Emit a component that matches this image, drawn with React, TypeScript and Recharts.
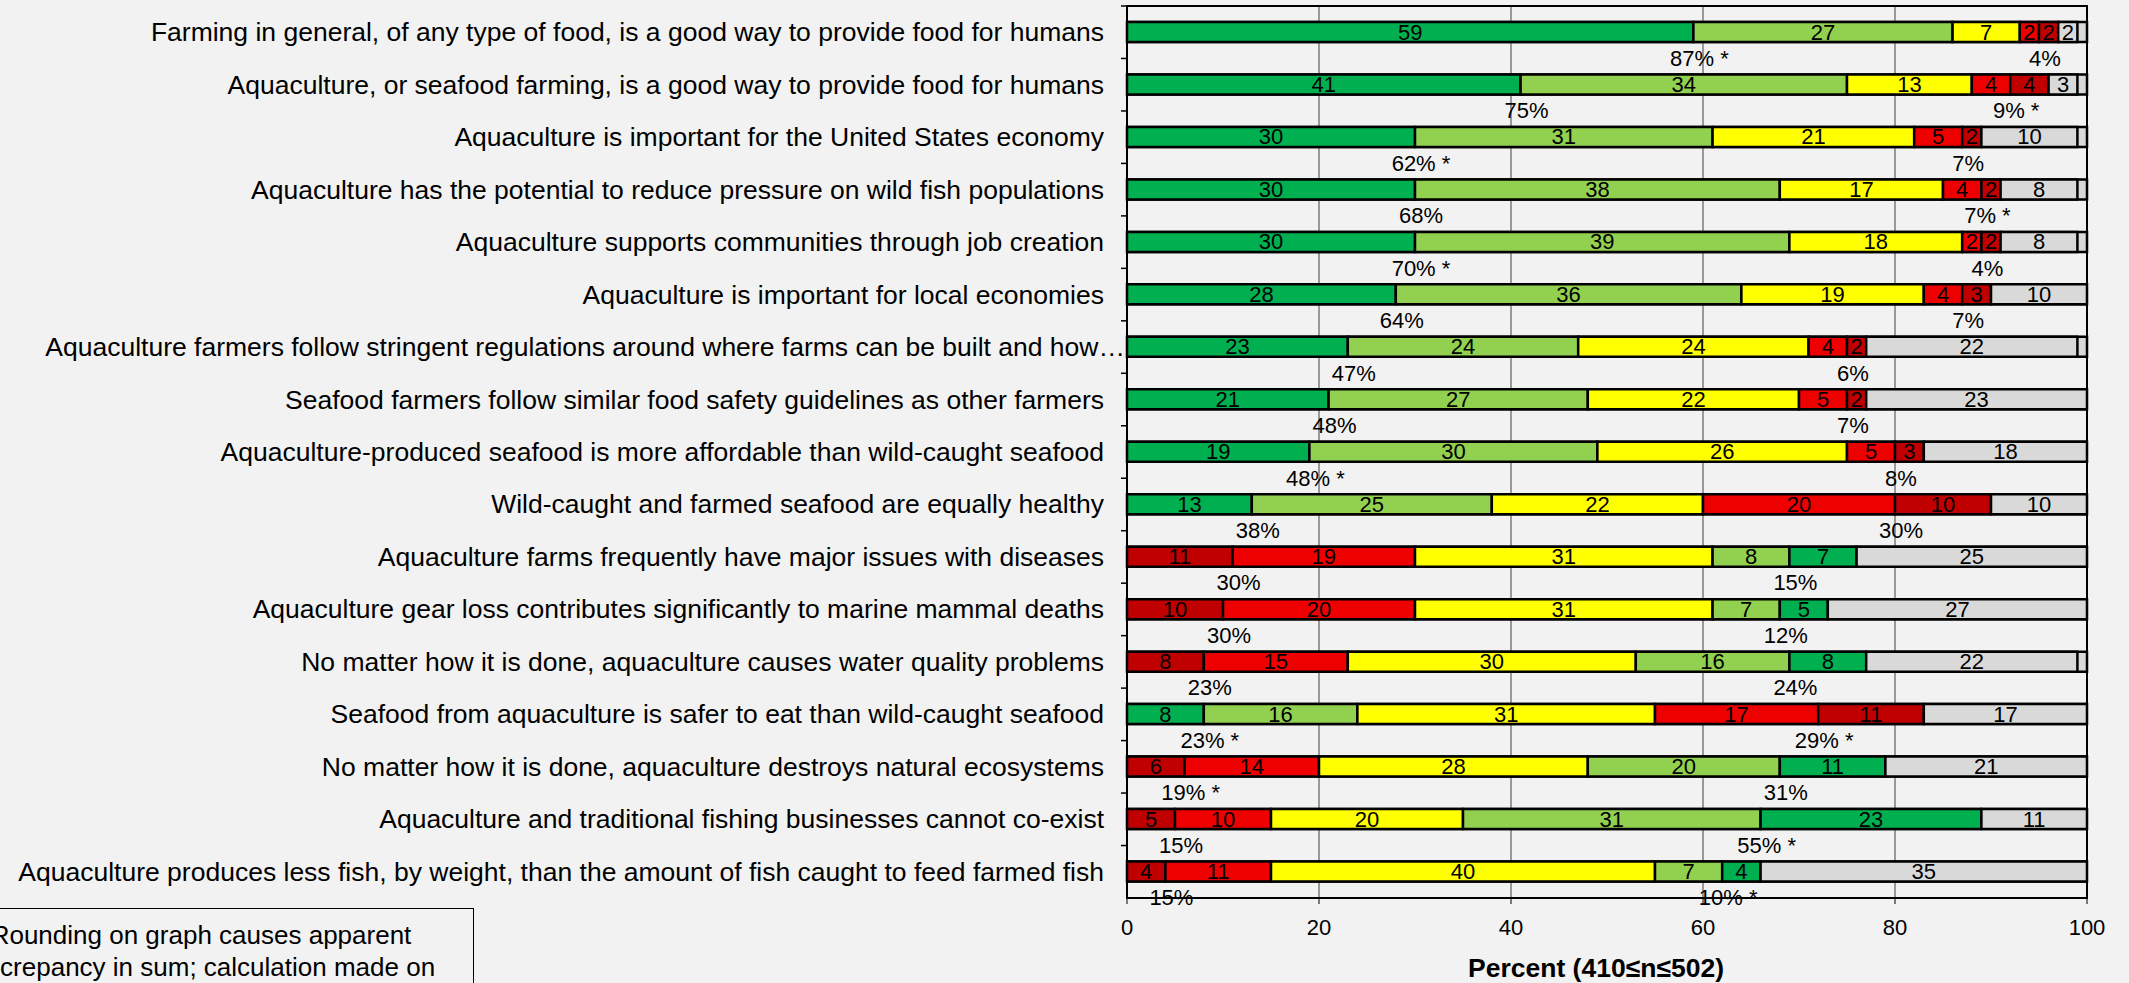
import React from 'react';
import { BarChart, Bar, XAxis, YAxis, CartesianGrid, LabelList, ReferenceArea, Cell } from 'recharts';

const statements = [
  'Farming in general, of any type of food, is a good way to provide food for humans',
  'Aquaculture, or seafood farming, is a good way to provide food for humans',
  'Aquaculture is important for the United States economy',
  'Aquaculture has the potential to reduce pressure on wild fish populations',
  'Aquaculture supports communities through job creation',
  'Aquaculture is important for local economies',
  'Aquaculture farmers follow stringent regulations around where farms can be built and how…',
  'Seafood farmers follow similar food safety guidelines as other farmers',
  'Aquaculture-produced seafood is more affordable than wild-caught seafood',
  'Wild-caught and farmed seafood are equally healthy',
  'Aquaculture farms frequently have major issues with diseases',
  'Aquaculture gear loss contributes significantly to marine mammal deaths',
  'No matter how it is done, aquaculture causes water quality problems',
  'Seafood from aquaculture is safer to eat than wild-caught seafood',
  'No matter how it is done, aquaculture destroys natural ecosystems',
  'Aquaculture and traditional fishing businesses cannot co-exist',
  'Aquaculture produces less fish, by weight, than the amount of fish caught to feed farmed fish',
];

const stronglyAgree = [59, 41, 30, 30, 30, 28, 23, 21, 19, 13, 7, 5, 8, 8, 11, 23, 4];
const agree = [27, 34, 31, 38, 39, 36, 24, 27, 30, 25, 8, 7, 16, 16, 20, 31, 7];
const neutral = [7, 13, 21, 17, 18, 19, 24, 22, 26, 22, 31, 31, 30, 31, 28, 20, 40];
const disagree = [2, 4, 5, 4, 2, 4, 4, 5, 5, 20, 19, 20, 15, 17, 14, 10, 11];
const stronglyDisagree = [2, 4, 2, 2, 2, 3, 2, 2, 3, 10, 11, 10, 8, 11, 6, 5, 4];
const dontKnow = [2, 3, 10, 8, 8, 10, 22, 23, 18, 10, 25, 27, 22, 17, 21, 11, 35];

// negative statements are stacked disagree-first
const disagreeFirst = [false, false, false, false, false, false, false, false, false, false, true, true, true, false, true, true, true];

const agreeTotals = ['87% *', '75%', '62% *', '68%', '70% *', '64%', '47%', '48%', '48% *', '38%', '15%', '12%', '24%', '23% *', '31%', '55% *', '10% *'];
const disagreeTotals = ['4%', '9% *', '7%', '7% *', '4%', '7%', '6%', '7%', '8%', '30%', '30%', '30%', '23%', '29% *', '19% *', '15%', '15%'];

const xTicks = [0, 20, 40, 60, 80, 100];

const C = {
  sa: '#00B050',
  a: '#92D050',
  n: '#FFFF00',
  d: '#EE0000',
  sd: '#C00000',
  dk: '#D9D9D9',
};

const rows = statements.map((name, i) => {
  const seg = disagreeFirst[i]
    ? [[stronglyDisagree[i], C.sd], [disagree[i], C.d], [neutral[i], C.n], [agree[i], C.a], [stronglyAgree[i], C.sa], [dontKnow[i], C.dk]]
    : [[stronglyAgree[i], C.sa], [agree[i], C.a], [neutral[i], C.n], [disagree[i], C.d], [stronglyDisagree[i], C.sd], [dontKnow[i], C.dk]];
  return {
    name,
    s0: seg[0][0], s1: seg[1][0], s2: seg[2][0], s3: seg[3][0], s4: seg[4][0], s5: seg[5][0],
    colors: seg.map((s) => s[1] as string),
    first: disagreeFirst[i] ? disagreeTotals[i] : agreeTotals[i],
    second: disagreeFirst[i] ? agreeTotals[i] : disagreeTotals[i],
  };
});

const BAND = 892 / 17;
const FONT = '"Liberation Sans", Arial, sans-serif';

const box = (props: any) => {
  const vb = props.viewBox || {};
  const x = props.x ?? vb.x;
  const y = props.y ?? vb.y;
  const width = props.width ?? vb.width;
  const height = props.height ?? vb.height;
  return { x: Number(x), y: Number(y), width: Number(width), height: Number(height) };
};

const ValueLabel = (props: any) => {
  const { x, y, width, height } = box(props);
  return (
    <text x={x + width / 2} y={y + height / 2} textAnchor="middle" dominantBaseline="central" fontSize={22} fontFamily={FONT} fill="#000">
      {props.value}
    </text>
  );
};

const TotalLabel = (props: any) => {
  const { x, y, width, height } = box(props);
  return (
    <text x={x + width + 6} y={y + height / 2 + BAND / 2} textAnchor="middle" dominantBaseline="central" fontSize={22} fontFamily={FONT} fill="#000">
      {props.value}
    </text>
  );
};

const CategoryTick = (props: any) => {
  const { x, y, payload } = props;
  const s = String(payload.value);
  // the truncated label runs right up to the axis, as in the original
  const tx = s.endsWith('…') ? x + 21 : x;
  return (
    <g>
      <line x1={x + 17} x2={x + 23} y1={y - BAND / 2} y2={y - BAND / 2} stroke="#000" strokeWidth={1.5} />
      <text x={tx} y={y} textAnchor="end" dominantBaseline="central" fontSize={26.5} fontFamily={FONT} fill="#000">
        {s}
      </text>
    </g>
  );
};

const keys = ['s0', 's1', 's2', 's3', 's4', 's5'];

export default function App() {
  return (
    <div style={{ position: 'absolute', left: 0, top: 0, width: 2129, height: 983, overflow: 'hidden', background: '#F2F2F2', fontFamily: FONT }}>
      <BarChart
        width={2129}
        height={983}
        data={rows}
        layout="vertical"
        barSize={20}
        margin={{ top: 6, right: 42, bottom: 0, left: 0 }}
      >
        <CartesianGrid horizontal={false} stroke="#404040" strokeWidth={1} />
        <XAxis
          type="number"
          domain={[0, 100]}
          ticks={xTicks}
          allowDataOverflow
          height={85}
          tickSize={6}
          tickMargin={15}
          stroke="#000"
          tick={{ fill: '#000', fontSize: 22, fontFamily: FONT }}
          label={{ value: 'Percent (410≤n≤502)', position: 'insideBottom', offset: 6, dx: -11, fill: '#000', fontSize: 26.5, fontWeight: 'bold', fontFamily: FONT }}
        />
        <YAxis
          type="category"
          dataKey="name"
          width={1127}
          tickSize={0}
          tickMargin={23}
          tickLine={false}
          stroke="#000"
          interval={0}
          tick={<CategoryTick />}
        />
        {keys.map((k, si) => (
          <Bar
            key={k}
            dataKey={k}
            stackId="a"
            isAnimationActive={false}
            stroke="#000"
            strokeWidth={2.5}
            background={si === 0 ? { fill: C.dk, stroke: '#000', strokeWidth: 2.5 } : undefined}
          >
            {rows.map((r, i) => (
              <Cell key={i} fill={r.colors[si]} />
            ))}
            <LabelList dataKey={k} content={<ValueLabel />} />
            {si === 0 && <LabelList dataKey="first" content={<TotalLabel />} />}
            {si === 3 && <LabelList dataKey="second" content={<TotalLabel />} />}
          </Bar>
        ))}
        <ReferenceArea x1={0} x2={100} fill="none" stroke="#000" strokeWidth={2} ifOverflow="visible" />
      </BarChart>
      <div
        style={{
          position: 'absolute',
          left: -72,
          top: 908,
          width: 546,
          border: '1.5px solid #000',
          boxSizing: 'border-box',
          padding: '10px 4px',
          textAlign: 'center',
          fontSize: 26,
          lineHeight: '32px',
          color: '#000',
          background: '#F2F2F2',
        }}
      >
        Rounding on graph causes apparent discrepancy in sum; calculation made on
      </div>
    </div>
  );
}
